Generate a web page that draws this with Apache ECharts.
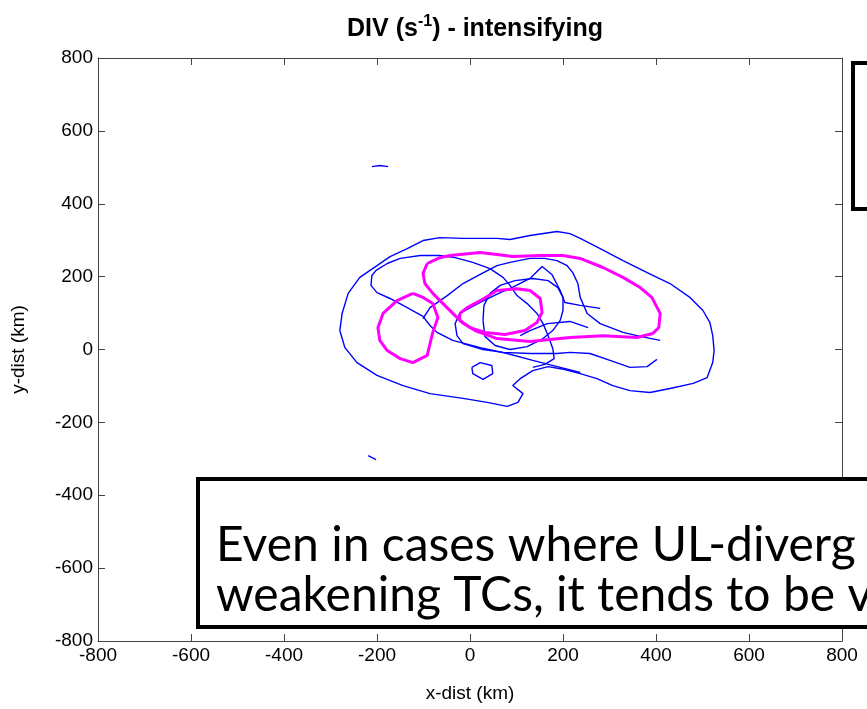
<!DOCTYPE html>
<html><head><meta charset="utf-8">
<script src="https://cdn.jsdelivr.net/npm/echarts@6/dist/echarts.min.js"></script>
<style>html,body{margin:0;padding:0;background:#fff}#c{width:867px;height:709px}</style>
</head><body><div id="c"></div>
<script>
// ---- data (km) ----
const xTicks = [-800,-600,-400,-200,0,200,400,600,800];
const yTicks = [-800,-600,-400,-200,0,200,400,600,800];

// blue contours
const blueOuter = [[-280,52],[-275,99],[-262,154],[-237,198],[-200,230],[-172,255],[-135,277],[-101,299],[-65,307],[-15,305],[58,305],[86,302],[129,313],[187,324],[215,318],[237,305],[280,277],[329,244],[381,211],[430,181],[473,143],[501,107],[516,74],[522,38],[525,-3],[522,-36],[510,-77],[480,-93],[430,-107],[387,-118],[344,-113],[307,-99],[273,-80],[237,-66],[204,-55],[168,-47],[135,-58],[108,-80],[92,-99],[114,-121],[103,-145],[80,-156],[37,-145],[-15,-134],[-86,-121],[-144,-99],[-200,-71],[-243,-36],[-269,5],[-280,52]];
const blueNode = [[237,-63],[194,-49],[135,-30],[80,-11],[22,5],[-37,25],[-71,47],[-86,66],[-101,91],[-135,115],[-172,140],[-200,156],[-213,176],[-211,203],[-202,217],[-178,236],[-150,250],[-107,258],[-65,258],[-32,252],[6,239],[43,222],[71,198],[86,176],[101,148],[123,126],[144,99],[157,71],[168,38],[178,3],[181,-25],[161,-41],[135,-49]];
const blueDiag = [[-101,85],[-86,115],[-49,148],[-15,181],[22,206],[58,230],[86,239],[129,250],[161,250],[187,244],[209,230],[221,211],[232,181],[237,143],[252,99],[280,71],[329,47],[366,36],[409,25]];
const bluePeak = [[280,113],[237,121],[204,129],[194,162],[176,206],[155,228],[129,195],[86,167],[65,156],[22,129],[-22,99],[-32,71],[-28,38],[-15,16],[28,0],[71,-8],[129,-11],[187,-11],[215,-8],[258,-11],[301,-30],[344,-49],[381,-47],[402,-27]];
const blueInner = [[28,80],[30,121],[43,154],[65,176],[97,189],[135,195],[168,189],[189,170],[200,143],[200,107],[194,80],[178,52],[157,30],[123,8],[86,0],[54,11],[32,36],[28,80]];
const blueShort = [[108,38],[129,52],[166,71],[215,77],[254,60]];
const bluePent = [[4,-49],[22,-36],[47,-44],[49,-66],[28,-82],[6,-66],[4,-49]];
const blueStubTop = [[-211,502],[-194,505],[-176,502]];
const blueStubBottom = [[-219,-291],[-202,-302]];

// magenta contours
const magLeft = [[-123,154],[-157,134],[-187,99],[-198,60],[-194,25],[-178,-3],[-150,-25],[-123,-36],[-92,-16],[-86,16],[-80,47],[-69,88],[-80,126],[-101,143],[-123,154]];
const magBig = [[-92,236],[-101,209],[-97,181],[-80,154],[-58,126],[-37,99],[-17,74],[11,52],[58,30],[129,22],[215,33],[286,38],[359,33],[393,44],[406,60],[409,99],[391,143],[366,170],[329,198],[286,225],[237,250],[200,258],[151,258],[92,255],[58,261],[22,266],[-43,258],[-65,252],[-92,236]];
const magInner = [[-22,99],[-6,115],[22,134],[58,162],[101,167],[129,162],[151,140],[155,102],[144,74],[118,52],[75,41],[32,47],[0,60],[-22,80],[-22,99]];

const titleMain = 'DIV (s';
const titleSup = '-1';
const titleTail = ') - intensifying';
const xName = 'x-dist (km)';
const yName = 'y-dist (km)';
const boxLine1 = 'Even in cases where UL-diverg';
const boxLine2 = 'weakening TCs, it tends to be v';

// ---- chart ----
const FONT = "'Liberation Sans',Arial,sans-serif";
const chart = echarts.init(document.getElementById('c'), null, {renderer:'canvas'});
const blueSets = [blueOuter, blueNode, blueDiag, bluePeak, blueInner, blueShort, bluePent, blueStubTop, blueStubBottom];
const magSets = [magLeft, magBig, magInner];
const series = [];
blueSets.forEach(d => series.push({type:'line', data:d, showSymbol:false, symbol:'none', silent:true, animation:false,
  lineStyle:{color:'#0000ff', width:1.4}, xAxisIndex:0, yAxisIndex:0}));
magSets.forEach(d => series.push({type:'line', data:d, showSymbol:false, symbol:'none', silent:true, animation:false,
  lineStyle:{color:'#ff00ff', width:3}, xAxisIndex:0, yAxisIndex:0}));

const axCommon = {type:'value', min:xTicks[0], max:xTicks[xTicks.length-1], interval:200,
  axisLine:{show:true, onZero:false, lineStyle:{color:'#444', width:1}},
  axisTick:{show:true, inside:true, length:7, lineStyle:{color:'#444'}},
  splitLine:{show:false}};

chart.setOption({
  animation:false,
  backgroundColor:'#fff',
  title:{text:'{a|'+titleMain+'}{s|'+titleSup+'}{a|'+titleTail+'}', left:470, top:9, textAlign:'center',
    textStyle:{rich:{a:{fontFamily:FONT, fontSize:25, fontWeight:'bold', color:'#000'},
                     s:{fontFamily:FONT, fontSize:16, fontWeight:'bold', color:'#000', padding:[0,0,14,0]}}}},
  grid:{left:98, right:25, top:58, bottom:68, containLabel:false},
  xAxis:[
    Object.assign({}, axCommon, {position:'bottom', axisLabel:{fontFamily:FONT, fontSize:19, color:'#000', margin:5},
      name:xName, nameLocation:'middle', nameGap:43, nameTextStyle:{fontFamily:FONT, fontSize:19, color:'#000'}}),
    Object.assign({}, axCommon, {position:'top', axisLabel:{show:false}})
  ],
  yAxis:[
    Object.assign({}, axCommon, {min:yTicks[0], max:yTicks[yTicks.length-1], position:'left', axisLabel:{fontFamily:FONT, fontSize:19, color:'#000', margin:5},
      name:yName, nameLocation:'middle', nameGap:70, nameTextStyle:{fontFamily:FONT, fontSize:19, color:'#000'}}),
    Object.assign({}, axCommon, {min:yTicks[0], max:yTicks[yTicks.length-1], position:'right', axisLabel:{show:false}})
  ],
  series:series,
  graphic:[
    {type:'rect', z:100, shape:{x:198, y:479, width:720, height:148}, style:{fill:'#fff', stroke:'#000', lineWidth:4}},
    {type:'text', z:101, left:216, top:522, style:{text:boxLine1, fontFamily:"Lato,'Open Sans',sans-serif", fontSize:48, fill:'#000'}},
    {type:'text', z:101, left:216, top:572, style:{text:boxLine2, fontFamily:"Lato,'Open Sans',sans-serif", fontSize:48, fill:'#000'}},
    {type:'rect', z:100, shape:{x:853, y:63, width:60, height:146}, style:{fill:'#fff', stroke:'#000', lineWidth:4}}
  ]
});
</script></body></html>
